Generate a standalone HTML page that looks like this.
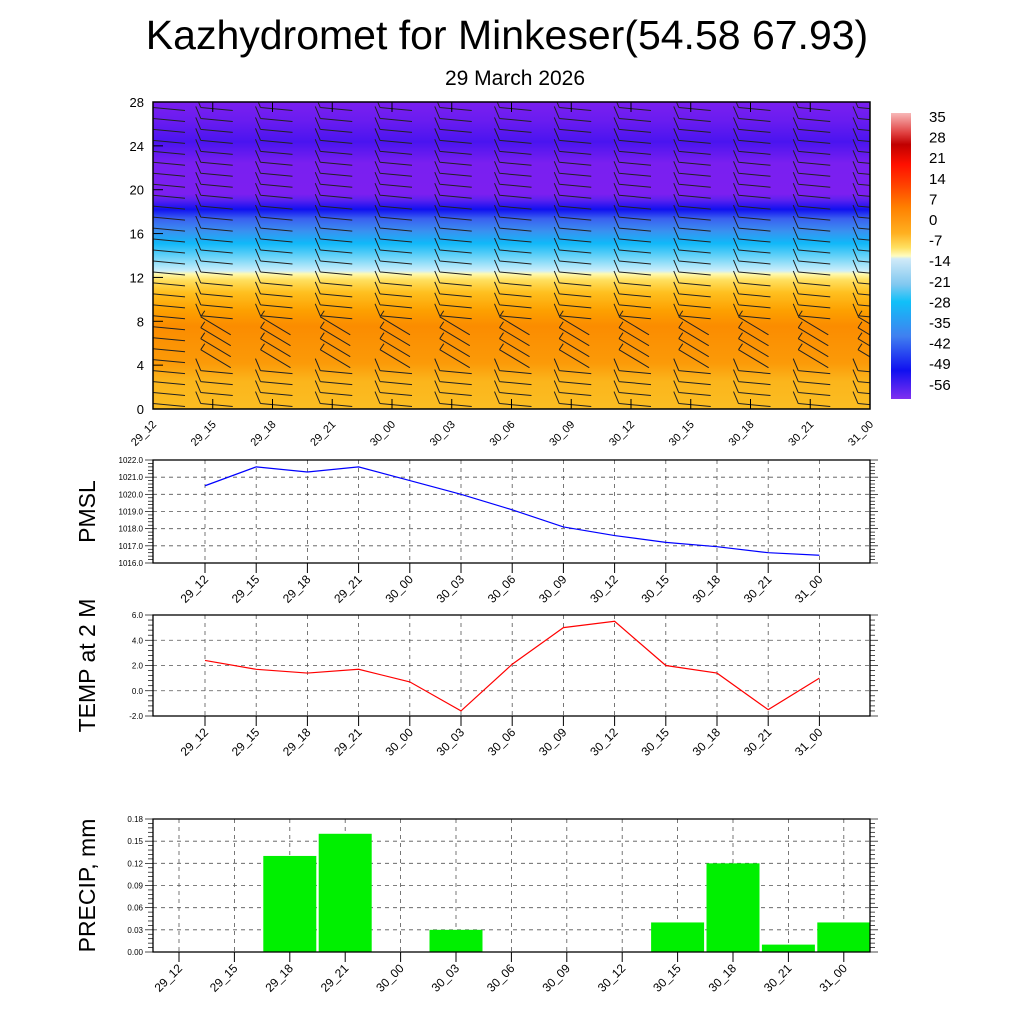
<!DOCTYPE html>
<html><head><meta charset="utf-8"><style>
body{margin:0;background:#fff;}
svg{display:block;font-family:"Liberation Sans",sans-serif;}
</style></head><body>
<svg id="c" width="1024" height="1024" viewBox="0 0 1024 1024" xmlns="http://www.w3.org/2000/svg">
<defs>
<clipPath id="tclip"><rect x="153" y="102" width="717" height="307"/></clipPath>
<linearGradient id="tg" x1="0" y1="1" x2="0" y2="0">
<stop offset="0" stop-color="#fbbd22"/><stop offset="0.09" stop-color="#fbb51c"/>
<stop offset="0.15" stop-color="#fb9a08"/><stop offset="0.27" stop-color="#fb8c00"/>
<stop offset="0.32" stop-color="#fda000"/><stop offset="0.38" stop-color="#ffc020"/>
<stop offset="0.42" stop-color="#ffe060"/><stop offset="0.44" stop-color="#fffab0"/>
<stop offset="0.45" stop-color="#cdeefa"/><stop offset="0.5" stop-color="#60d0f8"/>
<stop offset="0.54" stop-color="#10b8f8"/><stop offset="0.58" stop-color="#3a90f0"/>
<stop offset="0.62" stop-color="#3a60f0"/><stop offset="0.65" stop-color="#1010f0"/>
<stop offset="0.68" stop-color="#5a20f0"/><stop offset="0.7" stop-color="#7c1ff0"/>
<stop offset="0.8" stop-color="#7a1ff0"/><stop offset="0.87" stop-color="#4a14f0"/>
<stop offset="0.94" stop-color="#6a1cf0"/><stop offset="1" stop-color="#7a1ff0"/>
</linearGradient>
<linearGradient id="cg" x1="0" y1="0" x2="0" y2="1">
<stop offset="0" stop-color="#f8b8b8"/><stop offset="0.07" stop-color="#e04040"/>
<stop offset="0.11" stop-color="#c00000"/><stop offset="0.18" stop-color="#ff1000"/>
<stop offset="0.25" stop-color="#ff4000"/><stop offset="0.33" stop-color="#ff8000"/>
<stop offset="0.42" stop-color="#ffb020"/><stop offset="0.47" stop-color="#ffe060"/>
<stop offset="0.5" stop-color="#fffcc0"/><stop offset="0.51" stop-color="#d0eaf8"/>
<stop offset="0.6" stop-color="#80c8f0"/><stop offset="0.66" stop-color="#10c0f8"/>
<stop offset="0.78" stop-color="#4080f0"/><stop offset="0.9" stop-color="#1010f0"/>
<stop offset="1" stop-color="#8030f0"/>
</linearGradient>
</defs>
<text x="507" y="49" font-size="41" text-anchor="middle">Kazhydromet for Minkeser(54.58 67.93)</text>
<text x="515" y="85" font-size="21" text-anchor="middle">29 March 2026</text>
<g id="topsec"></g>
<g id="cbar"></g>
<g id="p1"></g>
<g id="p2"></g>
<g id="p3"></g>
</svg>
<script>
const categories=["29_12","29_15","29_18","29_21","30_00","30_03","30_06","30_09","30_12","30_15","30_18","30_21","31_00"];
const pmslValues=[1020.5,1021.6,1021.3,1021.6,1020.8,1020.0,1019.1,1018.1,1017.6,1017.2,1016.95,1016.6,1016.45];
const tempValues=[2.4,1.7,1.4,1.7,0.7,-1.6,2.1,5.0,5.5,2.0,1.4,-1.5,1.0];
const precipValues=[0,0,0.13,0.16,0,0.03,0,0,0,0.04,0.12,0.01,0.04];
const heightTicks=[0,4,8,12,16,20,24,28];
const cbarLabels=["35","28","21","14","7","0","-7","-14","-21","-28","-35","-42","-49","-56"];
const pmslTicks=[1016,1017,1018,1019,1020,1021,1022];
const tempTicks=[-2,0,2,4,6];
const precipTicks=[0,0.03,0.06,0.09,0.12,0.15,0.18];

const NS="http://www.w3.org/2000/svg";
function mk(par,tag,at,txt){const e=document.createElementNS(NS,tag);for(const k in at)e.setAttribute(k,at[k]);if(txt!==undefined)e.textContent=txt;par.appendChild(e);return e;}

const topSec=document.getElementById('topsec');
const TX0=153,TX1=870,TY0=102,TY1=409;
const tx=i=>TX0+i*(TX1-TX0)/12;
const ty=v=>TY1-v*(TY1-TY0)/28;
const bg=mk(topSec,'rect',{x:TX0,y:TY0,width:TX1-TX0,height:TY1-TY0,fill:'url(#tg)'});


const barbs=mk(topSec,'g',{stroke:'#222','stroke-width':1,fill:'none','clip-path':'url(#tclip)'});


for(let i=0;i<13;i++){
  for(let h=0.5;h<28;h+=1){
    const x=tx(i)+(i==0?0:-12),y=ty(h);
    let d;
    if(h>3.5&&h<8.5&&i>0){d=`M${x},${y-10} L${x+30},${y+8} M${x},${y-10} L${x+4},${y-16}`;}
    else{d=`M${x},${y} L${x+32},${y+3} M${x},${y} L${x-5},${y-12}`;}
    mk(barbs,'path',{d:d});
  }
}
mk(topSec,'rect',{x:TX0,y:TY0,width:TX1-TX0,height:TY1-TY0,fill:'none',stroke:'#000','stroke-width':1.5});
heightTicks.forEach(v=>{
  mk(topSec,'line',{x1:TX0,x2:TX0+10,y1:ty(v),y2:ty(v),stroke:'#000'});
  mk(topSec,'text',{x:TX0-9,y:ty(v)+5,'font-size':13,'text-anchor':'end'},v);
});
categories.forEach((c,i)=>{
  mk(topSec,'line',{x1:tx(i),x2:tx(i),y1:TY1,y2:TY1-10,stroke:'#000'});
  mk(topSec,'line',{x1:tx(i),x2:tx(i),y1:TY0,y2:TY0+10,stroke:'#000'});
  const t=mk(topSec,'text',{x:tx(i)+4,y:TY1+16,'font-size':11,'text-anchor':'end',transform:`rotate(-45 ${tx(i)+4} ${TY1+16})`},c);
  
  
});

const cb=document.getElementById('cbar');
mk(cb,'rect',{x:891,y:113,width:20,height:286,fill:'url(#cg)'});
cbarLabels.forEach((l,i)=>{
  mk(cb,'text',{x:929,y:122+i*20.6,'font-size':15},l);
});

function panel(id,y0,y1,ticks,fmt,title,vals,color,bars){
  const g=document.getElementById(id);
  const X0=153,X1=870;
  const lo=ticks[0],hi=ticks[ticks.length-1];
  const sy=v=>y1-(v-lo)/(hi-lo)*(y1-y0);
  const cx=bars?(i=>179+i*55.4):(i=>205+i*51.2);
  ticks.forEach(v=>{if(v!==lo&&v!==hi)mk(g,'line',{x1:X0,x2:X1,y1:sy(v),y2:sy(v),stroke:'#555','stroke-dasharray':'4,4','stroke-width':0.8});});
  categories.forEach((c,i)=>{mk(g,'line',{x1:cx(i),x2:cx(i),y1:y0,y2:y1,stroke:'#555','stroke-dasharray':'4,4','stroke-width':0.8});});
  if(bars){
    vals.forEach((v,i)=>{if(v>0){const r=mk(g,'rect',{x:cx(i)-26.5,y:sy(v),width:53,height:y1-sy(v),fill:'#00f000'});
      
      }});
  } else {
    const p=mk(g,'polyline',{points:vals.map((v,i)=>cx(i)+','+sy(v)).join(' '),fill:'none',stroke:color,'stroke-width':1.2});
    
    
  }
  mk(g,'rect',{x:X0,y:y0,width:X1-X0,height:y1-y0,fill:'none',stroke:'#000','stroke-width':1.3});
  const n=(ticks.length-1)*5;
  for(let k=0;k<=n;k++){const y=y1-k*(y1-y0)/n;const L=k%5==0?8:5;
    mk(g,'line',{x1:X0-L,x2:X0,y1:y,y2:y,stroke:'#000','stroke-width':0.7});
    mk(g,'line',{x1:X1,x2:X1+L,y1:y,y2:y,stroke:'#000','stroke-width':0.7});}
  ticks.forEach(v=>{mk(g,'text',{x:X0-10,y:sy(v)+3,'font-size':8,'text-anchor':'end'},fmt(v));});
  categories.forEach((c,i)=>{
    mk(g,'line',{x1:cx(i),x2:cx(i),y1:y1,y2:y1+10,stroke:'#000'});
    const t=mk(g,'text',{x:cx(i)+4,y:y1+17,'font-size':12,'text-anchor':'end',transform:`rotate(-45 ${cx(i)+4} ${y1+17})`},c);
    
    
  });
  const yc=(y0+y1)/2;
  const tt=mk(g,'text',{x:95,y:yc,'font-size':23,'text-anchor':'middle',transform:`rotate(-90 95 ${yc})`},title);
  
  
}
panel('p1',460,563,pmslTicks,v=>v.toFixed(1),'PMSL',pmslValues,'#0000ff',false);
panel('p2',615,716,tempTicks,v=>v.toFixed(1),'TEMP at 2 M',tempValues,'#ff0000',false);
panel('p3',819,952,precipTicks,v=>v.toFixed(2),'PRECIP, mm',precipValues,null,true);
</script>
</body></html>
